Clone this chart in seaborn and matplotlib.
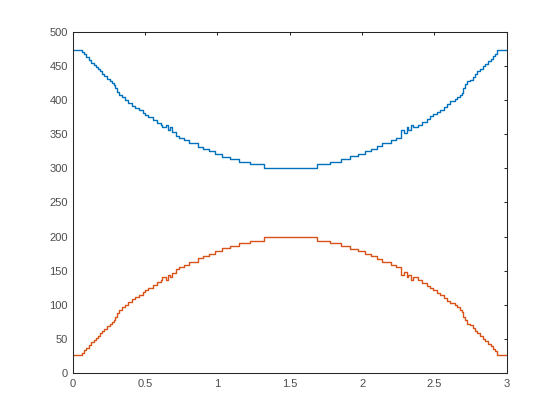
import matplotlib
matplotlib.use('Agg')
import matplotlib.pyplot as plt
import seaborn as sns

# step edges (x) and levels
step_x = [0, 0.065, 0.078, 0.092, 0.111, 0.124, 0.147, 0.161, 0.175, 0.189, 0.203,
          0.217, 0.237, 0.258, 0.272, 0.286, 0.295, 0.304, 0.318, 0.341, 0.364,
          0.382, 0.406, 0.429, 0.456, 0.484, 0.502, 0.521, 0.553, 0.580, 0.607,
          0.618, 0.644, 0.657, 0.669, 0.687, 0.710, 0.733, 0.768, 0.802, 0.862,
          0.901, 0.940, 0.986, 1.032, 1.085, 1.150, 1.223, 1.320,
          1.685, 1.780, 1.855, 1.917, 1.970, 2.021, 2.062, 2.106, 2.140, 2.202,
          2.234, 2.272, 2.289, 2.307, 2.319, 2.335, 2.349, 2.388, 2.416, 2.446,
          2.469, 2.492, 2.520, 2.538, 2.566, 2.584, 2.607, 2.642, 2.658, 2.677,
          2.693, 2.700, 2.711, 2.727, 2.746, 2.764, 2.780, 2.797, 2.815, 2.834,
          2.852, 2.873, 2.891, 2.908, 2.920, 2.935, 3.000]

upper_y = [474, 471, 467, 463, 459, 455, 452, 449, 446, 442, 438,
           435, 431, 428, 425, 422, 418, 412, 407, 404, 400,
           396, 392, 389, 385, 381, 378, 375, 371, 367, 364,
           360, 364, 356, 360, 353, 348, 344, 341, 337, 332,
           329, 325, 321, 317, 314, 310, 306, 301,
           306, 310, 314, 318, 321, 325, 329, 333, 337, 341,
           344, 356, 352, 360, 356, 364, 360, 364, 368, 372,
           376, 379, 383, 386, 390, 394, 398, 401, 404, 407,
           411, 418, 423, 428, 430, 434, 439, 442, 446, 450,
           453, 457, 461, 465, 468, 474, 474]

lower_y = [26, 29, 33, 37, 41, 45, 48, 51, 54, 58, 62,
           65, 69, 72, 75, 78, 82, 88, 93, 96, 100,
           104, 108, 111, 115, 119, 122, 125, 129, 133, 136,
           140, 136, 144, 140, 147, 152, 156, 159, 163, 168,
           171, 175, 179, 183, 186, 190, 194, 199,
           194, 190, 186, 182, 179, 175, 171, 167, 163, 159,
           156, 144, 148, 140, 144, 136, 140, 136, 132, 128,
           124, 121, 117, 114, 110, 106, 102, 99, 96, 93,
           89, 82, 77, 72, 70, 66, 61, 58, 54, 50,
           47, 43, 39, 35, 32, 26, 26]

x_ticks = [0, 0.5, 1, 1.5, 2, 2.5, 3]
x_labels = ['0', '0.5', '1', '1.5', '2', '2.5', '3']
y_ticks = [0, 50, 100, 150, 200, 250, 300, 350, 400, 450, 500]

sns.set_style('white')
plt.rcParams['font.family'] = ['Liberation Sans', 'DejaVu Sans']

fig = plt.figure(figsize=(5.6, 4.2), dpi=100)
ax = fig.add_axes([0.13, 0.112, 0.775, 0.812])

sns.lineplot(x=step_x, y=upper_y, drawstyle='steps-post', color='#0072BD',
             linewidth=1.0, ax=ax)
sns.lineplot(x=step_x, y=lower_y, drawstyle='steps-post', color='#D95319',
             linewidth=1.0, ax=ax)

ax.set_xlim(0, 3)
ax.set_ylim(0, 500)
ax.set_xticks(x_ticks)
ax.set_xticklabels(x_labels)
ax.set_yticks(y_ticks)
for s in ax.spines.values():
    s.set_visible(True)
    s.set_color('#262626')
    s.set_linewidth(0.75)
ax.tick_params(direction='in', length=2.5, width=0.75, colors='#262626',
               labelsize=8, top=True, right=True, labelcolor='#4d4d4d')
ax.tick_params(axis='x', pad=4.5)

fig.savefig('out.png', dpi=100, facecolor='white')
